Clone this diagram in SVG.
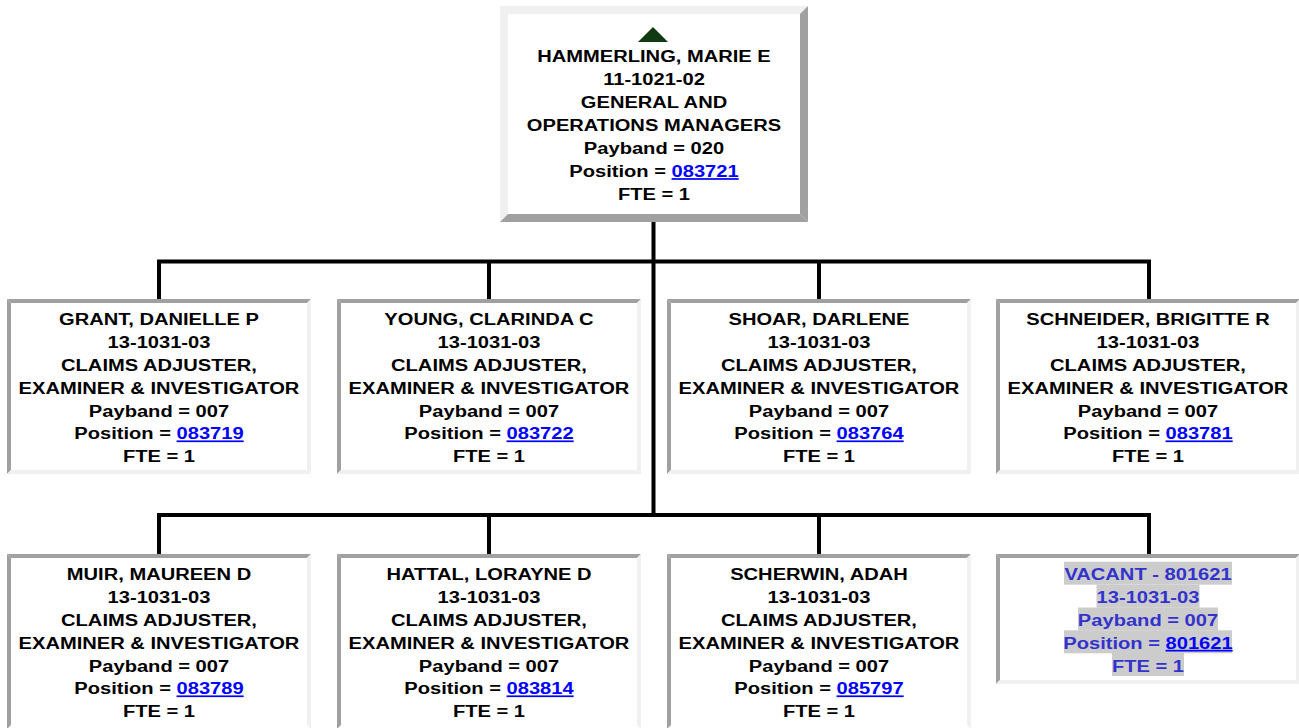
<svg xmlns="http://www.w3.org/2000/svg" width="1299" height="728" viewBox="0 0 1299 728">
<style>
.bg{fill:#ffffff}
.lt{fill:#f0f0f0}
.dk{fill:#a0a0a0}
.t{font-family:"Liberation Sans",Arial,sans-serif;font-weight:bold;font-size:17.2px;fill:#000;text-anchor:middle}
.v{fill:#3333cc}
.a{fill:#0000ff;text-decoration:underline}
.hl{fill:#cccccc}
.c{stroke:#000;stroke-width:4;fill:none}
</style>
<rect x="0" y="0" width="1299" height="728" fill="#fff"/>
<g id="connectors">
<line class="c" x1="653.5" y1="222" x2="653.5" y2="517"/>
<line class="c" x1="157" y1="261.5" x2="1151" y2="261.5"/>
<line class="c" x1="159" y1="261.5" x2="159" y2="300"/>
<line class="c" x1="489" y1="261.5" x2="489" y2="300"/>
<line class="c" x1="819" y1="261.5" x2="819" y2="300"/>
<line class="c" x1="1149" y1="261.5" x2="1149" y2="300"/>
<line class="c" x1="157" y1="515" x2="1151" y2="515"/>
<line class="c" x1="159" y1="515" x2="159" y2="555"/>
<line class="c" x1="489" y1="515" x2="489" y2="555"/>
<line class="c" x1="819" y1="515" x2="819" y2="555"/>
<line class="c" x1="1149" y1="515" x2="1149" y2="555"/>
</g>
<g id="n-hammerling">
<rect class="bg" x="500" y="6" width="308" height="216"/>
<polygon class="lt" points="500,6 808,6 800,14 508,14"/>
<polygon class="lt" points="500,6 508,14 508,214 500,222"/>
<polygon class="dk" points="808,6 808,222 800,214 800,14"/>
<polygon class="dk" points="500,222 808,222 800,214 508,214"/>
<polygon points="653,27 668,42 638,42" fill="#123a12"/>
<g transform="translate(654,0) scale(1.17,1)">
<text class="t" x="0" y="62.5">HAMMERLING, MARIE E</text>
<text class="t" x="0" y="85.5">11-1021-02</text>
<text class="t" x="0" y="108.4">GENERAL AND</text>
<text class="t" x="0" y="131.3">OPERATIONS MANAGERS</text>
<text class="t" x="0" y="154.2">Payband = 020</text>
<text class="t" x="0" y="177.2">Position = <tspan class="a">083721</tspan></text>
<text class="t" x="0" y="200.1">FTE = 1</text>
</g>
</g>
<g id="n-grant">
<rect class="bg" x="7" y="299" width="304" height="175"/>
<polygon class="dk" points="7,299 311,299 307,303 11,303"/>
<polygon class="dk" points="7,299 11,303 11,470 7,474"/>
<polygon class="lt" points="311,299 311,474 307,470 307,303"/>
<polygon class="lt" points="7,474 311,474 307,470 11,470"/>
<g transform="translate(159,0) scale(1.17,1)">
<text class="t" x="0" y="325.5">GRANT, DANIELLE P</text>
<text class="t" x="0" y="348.3">13-1031-03</text>
<text class="t" x="0" y="371.1">CLAIMS ADJUSTER,</text>
<text class="t" x="0" y="393.9">EXAMINER &amp; INVESTIGATOR</text>
<text class="t" x="0" y="416.7">Payband = 007</text>
<text class="t" x="0" y="439.5">Position = <tspan class="a">083719</tspan></text>
<text class="t" x="0" y="462.3">FTE = 1</text>
</g>
</g>
<g id="n-young">
<rect class="bg" x="337" y="299" width="304" height="175"/>
<polygon class="dk" points="337,299 641,299 637,303 341,303"/>
<polygon class="dk" points="337,299 341,303 341,470 337,474"/>
<polygon class="lt" points="641,299 641,474 637,470 637,303"/>
<polygon class="lt" points="337,474 641,474 637,470 341,470"/>
<g transform="translate(489,0) scale(1.17,1)">
<text class="t" x="0" y="325.5">YOUNG, CLARINDA C</text>
<text class="t" x="0" y="348.3">13-1031-03</text>
<text class="t" x="0" y="371.1">CLAIMS ADJUSTER,</text>
<text class="t" x="0" y="393.9">EXAMINER &amp; INVESTIGATOR</text>
<text class="t" x="0" y="416.7">Payband = 007</text>
<text class="t" x="0" y="439.5">Position = <tspan class="a">083722</tspan></text>
<text class="t" x="0" y="462.3">FTE = 1</text>
</g>
</g>
<g id="n-shoar">
<rect class="bg" x="667" y="299" width="304" height="175"/>
<polygon class="dk" points="667,299 971,299 967,303 671,303"/>
<polygon class="dk" points="667,299 671,303 671,470 667,474"/>
<polygon class="lt" points="971,299 971,474 967,470 967,303"/>
<polygon class="lt" points="667,474 971,474 967,470 671,470"/>
<g transform="translate(819,0) scale(1.17,1)">
<text class="t" x="0" y="325.5">SHOAR, DARLENE</text>
<text class="t" x="0" y="348.3">13-1031-03</text>
<text class="t" x="0" y="371.1">CLAIMS ADJUSTER,</text>
<text class="t" x="0" y="393.9">EXAMINER &amp; INVESTIGATOR</text>
<text class="t" x="0" y="416.7">Payband = 007</text>
<text class="t" x="0" y="439.5">Position = <tspan class="a">083764</tspan></text>
<text class="t" x="0" y="462.3">FTE = 1</text>
</g>
</g>
<g id="n-schneider">
<rect class="bg" x="996" y="299" width="304" height="175"/>
<polygon class="dk" points="996,299 1300,299 1296,303 1000,303"/>
<polygon class="dk" points="996,299 1000,303 1000,470 996,474"/>
<polygon class="lt" points="1300,299 1300,474 1296,470 1296,303"/>
<polygon class="lt" points="996,474 1300,474 1296,470 1000,470"/>
<g transform="translate(1148,0) scale(1.17,1)">
<text class="t" x="0" y="325.5">SCHNEIDER, BRIGITTE R</text>
<text class="t" x="0" y="348.3">13-1031-03</text>
<text class="t" x="0" y="371.1">CLAIMS ADJUSTER,</text>
<text class="t" x="0" y="393.9">EXAMINER &amp; INVESTIGATOR</text>
<text class="t" x="0" y="416.7">Payband = 007</text>
<text class="t" x="0" y="439.5">Position = <tspan class="a">083781</tspan></text>
<text class="t" x="0" y="462.3">FTE = 1</text>
</g>
</g>
<g id="n-muir">
<rect class="bg" x="7" y="554" width="304" height="175"/>
<polygon class="dk" points="7,554 311,554 307,558 11,558"/>
<polygon class="dk" points="7,554 11,558 11,725 7,729"/>
<polygon class="lt" points="311,554 311,729 307,725 307,558"/>
<g transform="translate(159,0) scale(1.17,1)">
<text class="t" x="0" y="580.5">MUIR, MAUREEN D</text>
<text class="t" x="0" y="603.3">13-1031-03</text>
<text class="t" x="0" y="626.1">CLAIMS ADJUSTER,</text>
<text class="t" x="0" y="648.9">EXAMINER &amp; INVESTIGATOR</text>
<text class="t" x="0" y="671.7">Payband = 007</text>
<text class="t" x="0" y="694.5">Position = <tspan class="a">083789</tspan></text>
<text class="t" x="0" y="717.3">FTE = 1</text>
</g>
</g>
<g id="n-hattal">
<rect class="bg" x="337" y="554" width="304" height="175"/>
<polygon class="dk" points="337,554 641,554 637,558 341,558"/>
<polygon class="dk" points="337,554 341,558 341,725 337,729"/>
<polygon class="lt" points="641,554 641,729 637,725 637,558"/>
<g transform="translate(489,0) scale(1.17,1)">
<text class="t" x="0" y="580.5">HATTAL, LORAYNE D</text>
<text class="t" x="0" y="603.3">13-1031-03</text>
<text class="t" x="0" y="626.1">CLAIMS ADJUSTER,</text>
<text class="t" x="0" y="648.9">EXAMINER &amp; INVESTIGATOR</text>
<text class="t" x="0" y="671.7">Payband = 007</text>
<text class="t" x="0" y="694.5">Position = <tspan class="a">083814</tspan></text>
<text class="t" x="0" y="717.3">FTE = 1</text>
</g>
</g>
<g id="n-scherwin">
<rect class="bg" x="667" y="554" width="304" height="175"/>
<polygon class="dk" points="667,554 971,554 967,558 671,558"/>
<polygon class="dk" points="667,554 671,558 671,725 667,729"/>
<polygon class="lt" points="971,554 971,729 967,725 967,558"/>
<g transform="translate(819,0) scale(1.17,1)">
<text class="t" x="0" y="580.5">SCHERWIN, ADAH</text>
<text class="t" x="0" y="603.3">13-1031-03</text>
<text class="t" x="0" y="626.1">CLAIMS ADJUSTER,</text>
<text class="t" x="0" y="648.9">EXAMINER &amp; INVESTIGATOR</text>
<text class="t" x="0" y="671.7">Payband = 007</text>
<text class="t" x="0" y="694.5">Position = <tspan class="a">085797</tspan></text>
<text class="t" x="0" y="717.3">FTE = 1</text>
</g>
</g>
<g id="n-vacant">
<rect class="bg" x="996" y="554" width="304" height="130"/>
<polygon class="dk" points="996,554 1300,554 1296,558 1000,558"/>
<polygon class="dk" points="996,554 1000,558 1000,680 996,684"/>
<polygon class="lt" points="1300,554 1300,684 1296,680 1296,558"/>
<polygon class="lt" points="996,684 1300,684 1296,680 1000,680"/>
<rect class="hl" x="1064" y="561.7" width="168" height="23"/>
<rect class="hl" x="1096.5" y="584.7" width="103" height="23"/>
<rect class="hl" x="1078" y="607.5" width="140" height="23"/>
<rect class="hl" x="1064" y="630.3" width="168" height="23"/>
<rect class="hl" x="1112" y="653" width="72" height="23"/>
<g transform="translate(1148,0) scale(1.17,1)">
<text class="t v" x="0" y="580.5">VACANT - 801621</text>
<text class="t v" x="0" y="603.3">13-1031-03</text>
<text class="t v" x="0" y="626.1">Payband = 007</text>
<text class="t v" x="0" y="648.9">Position = <tspan class="a">801621</tspan></text>
<text class="t v" x="0" y="671.7">FTE = 1</text>
</g>
</g>
</svg>
